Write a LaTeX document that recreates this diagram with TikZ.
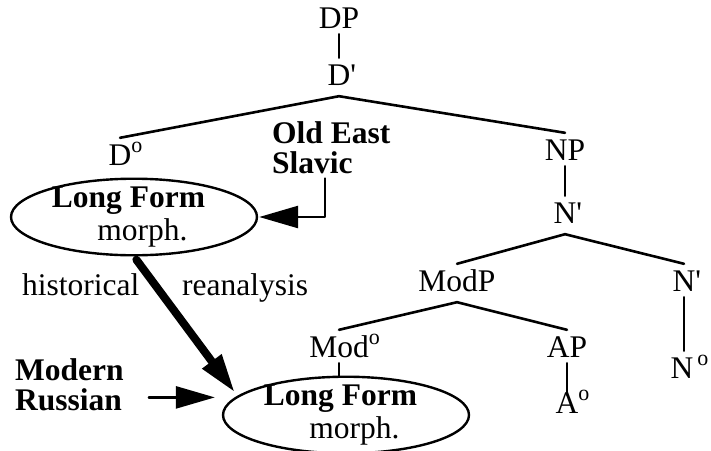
\documentclass[tikz,border=0pt]{standalone}
\usepackage{fontspec}
\setmainfont{Liberation Serif}
\usetikzlibrary{arrows.meta,shapes.geometric}
% raised ``o'' marking a head
\newcommand{\headmark}{\rlap{\raisebox{13pt}{\fontsize{22}{22}\selectfont o}}}

\begin{document}
\begin{tikzpicture}[x=1pt, y=-1pt, line cap=round, line join=round,
    >={Triangle[length=39pt,width=22pt]}]
\tikzset{
    every node/.style={font=\fontsize{31.5}{36}\selectfont},
    cat/.style=   {anchor=base, inner xsep=0pt, inner ysep=6pt, text height=21pt, text depth=0pt},
    split/.style= {cat, text depth=5pt},% room below a branching label
    branch/.style={line width=2.6pt},
    lform/.style= {draw, ellipse, line width=2.4pt, inner xsep=0pt, inner ysep=-3pt,
                   minimum width=246pt, align=center,
                   font=\fontsize{31.5}{27}\selectfont},
    lang/.style=  {anchor=base west, inner sep=0pt, align=left,
                   font=\fontsize{31.5}{30}\selectfont\bfseries},
    word/.style=  {anchor=base west, inner sep=0pt}
}
\useasboundingbox (0,0) rectangle (711,450);

%% Tree labels
\node[cat]   (dp)    at (339,28)  {DP};
\node[split] (dbar)  at (339,85)  {D\rlap{\textquotesingle}};
\node[cat]   (d0)    at (120,165) {D\headmark};
\node[cat]   (np)    at (565,160) {NP};
\node[split] (nbar)  at (565,223) {N\rlap{\textquotesingle}};
\node[split] (modp)  at (457,291) {ModP};
\node[cat]   (nbarr) at (684,291) {N\rlap{\textquotesingle}};
\node[cat]   (mod0)  at (339,357) {Mod\headmark};
\node[cat]   (ap)    at (567,357) {AP};
\node[cat]   (a0)    at (567,413) {A\headmark};
\node[cat]   (n0)    at (684,378) {N\kern4pt\headmark};

%% the two morphemes
\node[lform, minimum height=76pt] (lf1) at (134,217)
    {\textbf{Long Form}\kern11pt\\[3pt]\kern17pt morph.};
\node[lform, minimum height=72pt] (lf2) at (346,415)
    {\textbf{Long Form}\kern11pt\\[3pt]\kern17pt morph.};

%% side labels
\node[lang] (oes)  at (272,173) {Old East\\Slavic};
\node[lang] (mr)   at (15,410)  {Modern\\Russian};
\node[word] (hist) at (22,295)  {historical};
\node[word] (rean) at (182,295) {reanalysis};

%% Branches
\draw[branch] (dp.south) -- (dbar.north);
\draw[branch] (d0.north) -- (dbar.south) -- (np.north);
\draw[branch] (np.south) -- (nbar.north);
\draw[branch] (modp.north) -- (nbar.south) -- (nbarr.north);
\draw[branch] (mod0.north) -- (modp.south) -- (ap.north);
\draw[branch] (ap.south) -- ([yshift=-9pt]a0.north);
\draw[branch] (nbarr.south) -- (n0.north);
\draw[branch] (mod0.south) -- (mod0.south |- lf2.north);

%% Arrows
\coordinate (bend) at (325,217);
\draw[->, branch, shorten <=5pt, shorten >=1pt] (oes.south -| bend) -- (bend) -- (lf1.east);
\draw[->, line width=8pt, shorten <=4pt, shorten >=4pt] (lf1.south) -- (lf2.170);
\draw[->, branch, shorten <=25pt, shorten >=20pt] (mr.east |- lf2.171) -- (lf2.171);

\end{tikzpicture}
\end{document}
